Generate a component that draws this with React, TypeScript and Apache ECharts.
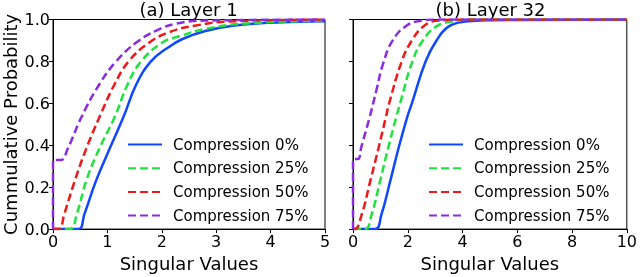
import React, { useEffect, useRef } from "react";
import * as echarts from "echarts";

const seriesNames = ["Compression 0%", "Compression 25%", "Compression 50%", "Compression 75%"];
const seriesColors = ["#0f47ff", "#1ee33c", "#f01818", "#8a2be2"];

const panelTitles = ["(a) Layer 1", "(b) Layer 32"];
const xAxisMax = [5, 10];
const xAxisInterval = [1, 2];
const yTicks = [0, 0.2, 0.4, 0.6, 0.8, 1.0];

// Layer 1 CDF curves [singular value, cumulative probability]
const layer1Comp0 = [[0, 0], [0.46, 0], [0.58, 0.074], [0.79, 0.23], [1.04, 0.383], [1.3, 0.538], [1.53, 0.69], [1.8, 0.8], [2.08, 0.86], [2.38, 0.907], [2.8, 0.945], [3.3, 0.97], [4, 0.985], [5, 0.992]];
const layer1Comp25 = [[0, 0], [0.31, 0], [0.44, 0.074], [0.61, 0.23], [0.85, 0.383], [1.14, 0.538], [1.37, 0.69], [1.62, 0.8], [2.01, 0.89], [2.32, 0.92], [2.8, 0.955], [3.5, 0.98], [5, 0.995]];
const layer1Comp50 = [[0, 0], [0.11, 0], [0.21, 0.074], [0.4, 0.23], [0.61, 0.383], [0.86, 0.538], [1.13, 0.69], [1.39, 0.8], [1.77, 0.89], [2.14, 0.94], [2.6, 0.97], [3.2, 0.99], [5, 1]];
const layer1Comp75 = [[0, 0], [0, 0.33], [0.15, 0.33], [0.27, 0.383], [0.53, 0.538], [0.85, 0.69], [1.16, 0.8], [1.53, 0.89], [1.89, 0.946], [2.26, 0.98], [2.8, 0.995], [5, 1]];

// Layer 32 CDF curves
const layer32Comp0 = [[0, 0], [0.8, 0], [1.04, 0.07], [1.35, 0.224], [1.65, 0.38], [1.98, 0.534], [2.15, 0.6], [2.65, 0.8], [3.05, 0.9], [3.5, 0.967], [4.1, 0.99], [5, 0.997], [10, 1]];
const layer32Comp25 = [[0, 0], [0.44, 0], [0.68, 0.07], [0.98, 0.224], [1.27, 0.38], [1.58, 0.534], [1.72, 0.6], [2.17, 0.8], [2.55, 0.9], [3.05, 0.967], [3.6, 0.99], [4.5, 1], [10, 1]];
const layer32Comp50 = [[0, 0], [0.07, 0], [0.32, 0.07], [0.62, 0.224], [0.92, 0.38], [1.2, 0.534], [1.32, 0.6], [1.78, 0.8], [2.15, 0.9], [2.6, 0.97], [3.1, 0.995], [4, 1], [10, 1]];
const layer32Comp75 = [[0, 0], [0, 0.334], [0.18, 0.334], [0.3, 0.39], [0.6, 0.53], [0.85, 0.66], [1.1, 0.79], [1.45, 0.9], [1.95, 0.97], [2.5, 0.995], [3, 1], [10, 1]];

const panelData = [
  [layer1Comp0, layer1Comp25, layer1Comp50, layer1Comp75],
  [layer32Comp0, layer32Comp25, layer32Comp50, layer32Comp75],
];

const FONT = "DejaVu Sans";

export default function App() {
  const ref = useRef<HTMLDivElement>(null);
  useEffect(() => {
    if (!ref.current) return;
    const chart = echarts.init(ref.current, undefined, { renderer: "svg" });
    const grids = [
      { left: 52, top: 19.5, width: 273, height: 215.5 },
      { left: 353, top: 19.5, width: 275, height: 215.5 },
    ];
    const series: any[] = [];
    panelData.forEach((curves, p) => {
      curves.forEach((d, i) => {
        series.push({
          name: seriesNames[i],
          type: "line",
          xAxisIndex: p,
          yAxisIndex: p,
          data: d,
          symbol: "none",
          smooth: 0.45,
          lineStyle: { color: seriesColors[i], width: 2.5, type: i === 0 ? "solid" : [8, 4] },
          itemStyle: { color: seriesColors[i] },
        });
      });
    });
    chart.setOption({
      animation: false,
      grid: grids.map((g) => ({ ...g, show: true, borderColor: "#000", borderWidth: 1, backgroundColor: "transparent", containLabel: false })),
      xAxis: [0, 1].map((p) => ({
        type: "value",
        gridIndex: p,
        min: 0,
        max: xAxisMax[p],
        interval: xAxisInterval[p],
        name: "Singular Values",
        nameLocation: "middle",
        nameGap: 22,
        nameTextStyle: { fontFamily: FONT, fontSize: 18, color: "#000" },
        axisLine: { show: true, lineStyle: { color: "#000", width: 1 } },
        axisTick: { show: true, length: 4, lineStyle: { color: "#000" } },
        axisLabel: { fontFamily: FONT, fontSize: 16, color: "#000", margin: 4 },
        splitLine: { show: false },
      })),
      yAxis: [0, 1].map((p) => ({
        type: "value",
        gridIndex: p,
        min: yTicks[0],
        max: yTicks[yTicks.length - 1],
        interval: 0.2,
        name: p === 0 ? "Cummulative Probability" : "",
        nameLocation: "middle",
        nameGap: 34,
        nameTextStyle: { fontFamily: FONT, fontSize: 18, color: "#000" },
        axisLine: { show: true, lineStyle: { color: "#000", width: 1 } },
        axisTick: { show: true, length: 4, lineStyle: { color: "#000" } },
        axisLabel: { show: p === 0, fontFamily: FONT, fontSize: 16, color: "#000", margin: 3, formatter: (v: number) => v.toFixed(1) },
        splitLine: { show: false },
      })),
      legend: [127, 428].map((left) => ({
        data: seriesNames,
        orient: "vertical",
        left,
        top: 137,
        padding: 0,
        itemWidth: 34,
        itemHeight: 14,
        itemGap: 8.7,
        selectedMode: false,
        itemStyle: { opacity: 0 },
        textStyle: { fontFamily: FONT, fontSize: 15, color: "#000", lineHeight: 14, padding: [0, 0, 0, 6] },
      })),
      graphic: panelTitles.map((t, p) => ({
        type: "text",
        x: grids[p].left + grids[p].width / 2,
        y: 0,
        style: { text: t, font: `18px "${FONT}"`, fill: "#000", textAlign: "center", textVerticalAlign: "top" },
      })),
      series,
    });
    return () => chart.dispose();
  }, []);
  return <div ref={ref} style={{ position: "fixed", left: 0, top: 0, width: 640, height: 277 }} />;
}
